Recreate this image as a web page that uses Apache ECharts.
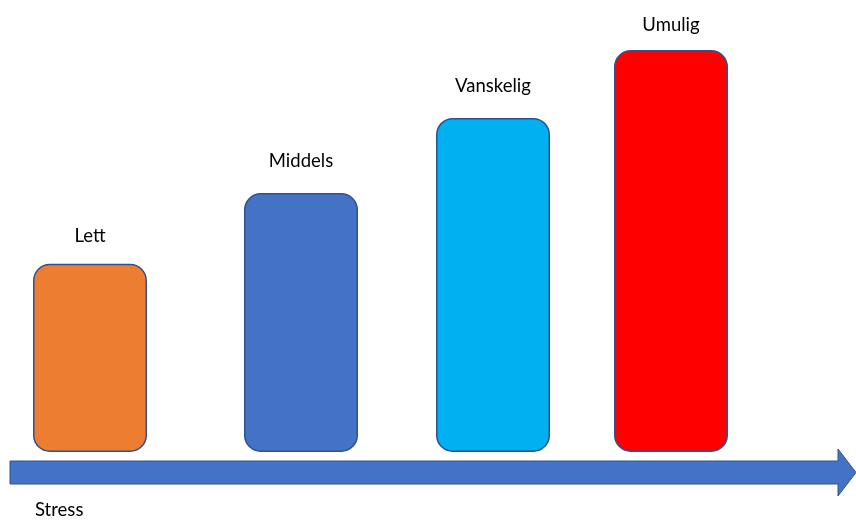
<!DOCTYPE html>
<html>
<head>
<meta charset="utf-8">
<script src="https://cdn.jsdelivr.net/npm/echarts@6/dist/echarts.min.js"></script>
<style>html,body{margin:0;padding:0;background:#fff;}#c{width:856px;height:522px;}</style>
</head>
<body>
<div id="c"></div>
<script>
const categories = ['Lett', 'Middels', 'Vanskelig', 'Umulig'];
const positions = [90, 301, 493, 671];
const values = [46.8, 64.4, 83.1, 100];
const colors = ['#ED7D31', '#4472C4', '#00B0F0', '#FF0000'];
const axisTitle = 'Stress';

const labelGaps = [18, 23, 22, 15];
const chart = echarts.init(document.getElementById('c'), null, {renderer: 'canvas'});
const FONT = 'Lato, "Open Sans", sans-serif';
chart.setOption({
  animation: false,
  grid: {left: 0, right: 0, top: 50, bottom: 70},
  xAxis: {type: 'value', min: 0, max: 856, show: false},
  yAxis: {type: 'value', min: 0, max: 100, show: false},
  series: [{
    type: 'bar',
    barWidth: 114,
    data: categories.map((c, i) => ({
      name: c,
      value: [positions[i], values[i]],
      itemStyle: {color: colors[i]},
      label: {distance: labelGaps[i]}
    })),
    itemStyle: {borderColor: '#2F528F', borderWidth: 1.5, borderRadius: 16},
    label: {
      show: true, position: 'top',
      formatter: p => p.name,
      color: '#000', fontSize: 18.5, fontFamily: FONT
    }
  }],
  graphic: [
    {
      type: 'polygon',
      shape: {points: [[10, 461], [838, 461], [838, 449], [856, 472.5], [838, 496], [838, 484], [10, 484]]},
      style: {fill: '#4472C4', stroke: '#2F528F', lineWidth: 1}
    },
    {
      type: 'text', left: 35, top: 501,
      style: {text: axisTitle, fill: '#000', fontSize: 18.5, fontFamily: FONT}
    }
  ]
});
</script>
</body>
</html>
